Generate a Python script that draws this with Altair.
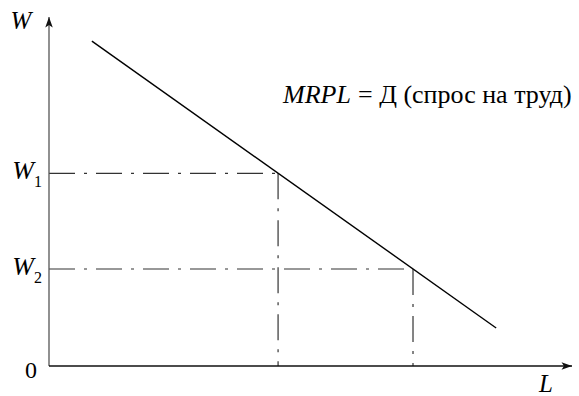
import altair as alt
import pandas as pd

# Labour-demand curve MRPL = D, given by its two end points (L, W)
demand_L = [0.82, 8.55]
demand_W = [9.31, 1.09]

# Wage levels and the labour quantities demanded at them
wage_W = [5.52, 2.78]
wage_L = [4.38, 6.96]
wage_main = ["W", "W"]
wage_sub = ["1", "2"]

X_DOM = [0, 10]
Y_DOM = [0, 10]
FONT = "Liberation Serif"
DASH = [26, 9, 3, 9]


def xs(field):
    return alt.X(field, type="quantitative", scale=alt.Scale(domain=X_DOM), axis=None)


def ys(field):
    return alt.Y(field, type="quantitative", scale=alt.Scale(domain=Y_DOM), axis=None)


demand = pd.DataFrame({"L": demand_L, "W": demand_W})
levels = pd.DataFrame({"L": wage_L, "W": wage_W, "zero": [0, 0],
                       "main": wage_main, "sub": wage_sub})
origin = pd.DataFrame({"L": [0], "W": [0], "Lend": [X_DOM[1]], "Wend": [Y_DOM[1]]})

# coordinate axes
y_axis = alt.Chart(origin).mark_rule(color="#555555", strokeWidth=1.3).encode(
    x=xs("L"), y=ys("W"), y2=alt.Y2("Wend"))
x_axis = alt.Chart(origin).mark_rule(color="#111111", strokeWidth=1.3).encode(
    x=xs("L"), x2=alt.X2("Lend"), y=ys("W"))

up_arrow = alt.Chart(origin).mark_point(
    shape="M0,0 L-0.75,2.1 L0,1.6 L0.75,2.1 Z", size=100, filled=True,
    color="#111111", opacity=1).encode(x=xs("L"), y=ys("Wend"))
right_arrow = alt.Chart(origin).mark_point(
    shape="M0,0 L-2.1,-0.75 L-1.6,0 L-2.1,0.75 Z", size=100, filled=True,
    color="#111111", opacity=1).encode(x=xs("Lend"), y=ys("W"))

# demand curve
curve = alt.Chart(demand).mark_line(color="#000000", strokeWidth=1.4).encode(
    x=xs("L"), y=ys("W"))

# dash-dot guides to both axes
h_guides = alt.Chart(levels).mark_rule(color="#333333", strokeWidth=1.2,
                                       strokeDash=DASH).encode(
    x=xs("zero"), x2=alt.X2("L"), y=ys("W"))
v_guides = alt.Chart(levels).mark_rule(color="#333333", strokeWidth=1.2,
                                       strokeDash=DASH).encode(
    x=xs("L"), y=ys("W"), y2=alt.Y2("zero"))

# wage labels W1, W2 with subscripts
w_labels = alt.Chart(levels).mark_text(
    font=FONT, fontSize=26, fontStyle="italic", align="right", baseline="middle",
    dy=-2, color="#000000").encode(x=alt.value(-15), y=ys("W"), text="main:N")
w_subs = alt.Chart(levels).mark_text(
    font=FONT, fontSize=16, align="left", baseline="middle", dy=9,
    color="#000000").encode(x=alt.value(-15), y=ys("W"), text="sub:N")

# axis names and origin
names = pd.DataFrame({"t": ["W", "L"], "px": [-28, 497], "py": [4, 367]})
axis_names = alt.Chart(names).mark_text(
    font=FONT, fontSize=25, fontStyle="italic", align="center", baseline="middle",
    color="#000000").encode(x=alt.X("px:Q", scale=None, axis=None),
                            y=alt.Y("py:Q", scale=None, axis=None), text="t:N")
zero = alt.Chart(origin).mark_text(
    font=FONT, fontSize=24, align="center", baseline="middle",
    color="#000000").encode(x=alt.value(-18), y=alt.value(354), text=alt.value("0"))

# curve caption
cap_it = alt.Chart(origin).mark_text(
    font=FONT, fontSize=26, fontStyle="italic", align="left", baseline="alphabetic",
    color="#000000").encode(x=alt.value(234), y=alt.value(86), text=alt.value("MRPL"))
cap_rm = alt.Chart(origin).mark_text(
    font=FONT, fontSize=26, align="left", baseline="alphabetic",
    color="#000000").encode(x=alt.value(309), y=alt.value(86),
                            text=alt.value("= Д (спрос на труд)"))

chart = alt.layer(
    h_guides, v_guides, y_axis, x_axis, up_arrow, right_arrow, curve,
    w_labels, w_subs, axis_names, zero, cap_it, cap_rm
).properties(
    width=523, height=349,
    padding={"left": 49, "top": 17, "right": 7, "bottom": 30},
    autosize=alt.AutoSizeParams(type="none"),
    background="white",
).configure_view(stroke=None)

chart.save("out.html", embed_options={"renderer": "svg", "actions": False})
